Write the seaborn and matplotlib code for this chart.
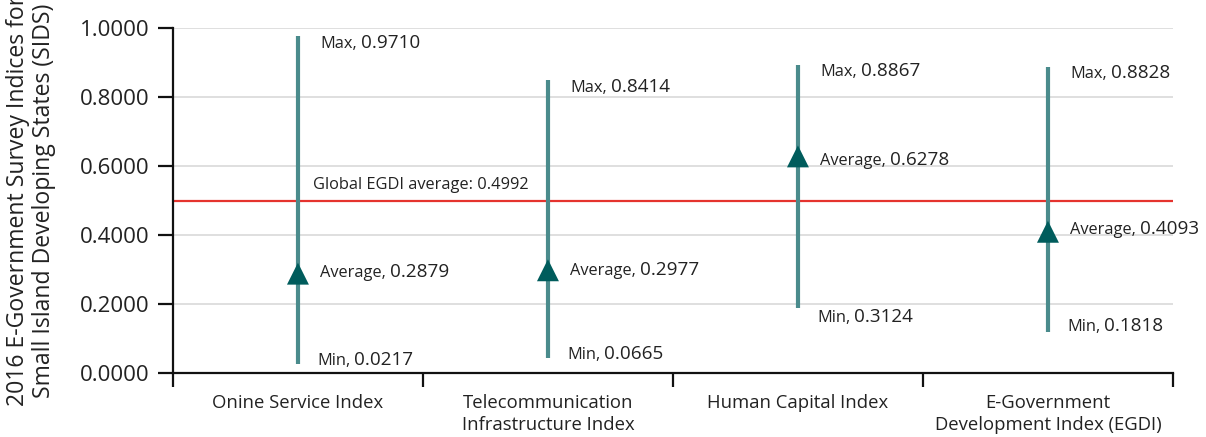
import matplotlib.pyplot as plt
import numpy as np
import pandas as pd
import seaborn as sns

# values
categories = [
    "Onine Service Index",
    "Telecommunication\nInfrastructure Index",
    "Human Capital Index",
    "E-Government\nDevelopment Index (EGDI)",
]
max_vals = [0.9710, 0.8414, 0.8867, 0.8828]
avg_vals = [0.2879, 0.2977, 0.6278, 0.4093]
min_vals = [0.0217, 0.0665, 0.3124, 0.1818]
# whisker ends as drawn in the source (not always equal to the labels)
whisker_top = [0.977, 0.849, 0.893, 0.888]
whisker_bottom = [0.026, 0.043, 0.188, 0.120]
global_egdi = 0.4992

# label heights as placed in the source chart
max_label_y = [0.962, 0.835, 0.881, 0.876]
avg_label_y = [0.299, 0.304, 0.623, 0.423]
min_label_y = [0.043, 0.061, 0.168, 0.142]

LINE_COLOR = "#4a8b8c"
MARKER_COLOR = "#005c5c"
RED = "#e5332e"
TEXT = "#222222"

sns.set_theme(style="white")
plt.rcParams["font.family"] = ["Open Sans", "DejaVu Sans"]

df = pd.DataFrame({"category": categories, "avg": avg_vals})
df["pos"] = np.arange(len(categories)) + 0.5

fig = plt.figure(figsize=(12.06, 4.37), dpi=100)
ax = fig.add_axes([0.1434, 0.1465, 0.8292, 0.7895])

for y in [0.2, 0.4, 0.6, 0.8, 1.0]:
    ax.axhline(y, color="#dcdcdc", lw=1.3, zorder=0)

ax.axhline(global_egdi, color=RED, lw=1.6, zorder=1)
ax.text(0.56, global_egdi + 0.022, f"Global EGDI average: {global_egdi:.4f}",
        fontsize=11.8, color=TEXT, va="bottom", ha="left")

ax.vlines(df["pos"], whisker_bottom, whisker_top, color=LINE_COLOR, lw=3, zorder=2)
sns.scatterplot(data=df, x="pos", y="avg", marker="^", s=250, color=MARKER_COLOR,
                edgecolor="none", ax=ax, zorder=3, legend=False)

# "Name, value" labels: the name is set a bit smaller than the number
for i, x in enumerate(df["pos"]):
    rows = [
        ("Max,", max_vals[i], max_label_y[i], 0.088),
        ("Average,", avg_vals[i], avg_label_y[i], 0.088),
        ("Min,", min_vals[i], min_label_y[i], 0.076),
    ]
    for name, val, ly, dx in rows:
        base = ly - 0.02
        t = ax.text(x + dx, base, name, fontsize=11.8, color=TEXT,
                    va="baseline", ha="left")
        ax.annotate(f"{val:.4f}", xy=(1, base), xycoords=(t, "data"),
                    xytext=(3, 0), textcoords="offset points",
                    fontsize=13.6, color=TEXT, va="baseline", ha="left")

ax.set_xlim(0, 4)
ax.set_ylim(0, 1)
ax.set_yticks([0, 0.2, 0.4, 0.6, 0.8, 1.0])
ax.set_yticklabels([f"{v:.4f}" for v in [0, 0.2, 0.4, 0.6, 0.8, 1.0]])
ax.set_xticks(range(5))
ax.set_xticklabels([])
ax.set_xticks(df["pos"], minor=True)
ax.set_xticklabels(categories, minor=True, fontsize=13.3, color=TEXT, linespacing=1.3)
ax.tick_params(axis="x", which="major", direction="out", length=10, width=1.6,
               color="#111111", bottom=True)
ax.tick_params(axis="x", which="minor", length=0, pad=15)
ax.tick_params(axis="y", direction="out", length=11, width=1.6, color="#111111",
               labelsize=16, labelcolor=TEXT, pad=6, left=True)

for side in ["top", "right"]:
    ax.spines[side].set_visible(False)
for side in ["left", "bottom"]:
    ax.spines[side].set_color("#111111")
    ax.spines[side].set_linewidth(1.6)

ax.set_xlabel("")
ax.set_ylabel("2016 E-Government Survey Indices for\nSmall Island Developing States (SIDS)",
              fontsize=16.6, color=TEXT, linespacing=1.12)
ax.yaxis.set_label_coords(-0.117, 0.5)

fig.savefig("out.png", dpi=100)
